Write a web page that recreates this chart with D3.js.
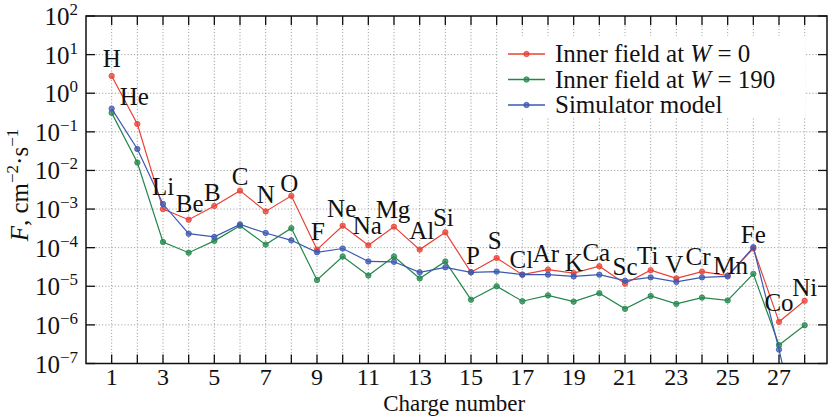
<!DOCTYPE html>
<html>
<head>
<meta charset="utf-8">
<script src="https://cdn.jsdelivr.net/npm/d3@7"></script>
<style>
  body { margin: 0; background: #fff; }
  svg text { font-family: "Liberation Serif", "DejaVu Serif", serif; fill: #111; }
</style>
</head>
<body>
<svg id="chart" width="829" height="417"></svg>
<script>
// charge numbers and element symbols
var charges = [1, 2, 3, 4, 5, 6, 7, 8, 9, 10, 11, 12, 13, 14, 15, 16, 17, 18, 19, 20, 21, 22, 23, 24, 25, 26, 27, 28];
var symbols = ["H", "He", "Li", "Be", "B", "C", "N", "O", "F", "Ne", "Na", "Mg", "Al", "Si", "P", "S", "Cl", "Ar", "K", "Ca", "Sc", "Ti", "V", "Cr", "Mn", "Fe", "Co", "Ni"];

// fluxes, cm^-2 s^-1
var innerW0 = [2.8, 0.16, 1.0e-3, 5.3e-4, 1.2e-3, 3.0e-3, 8.7e-4, 2.2e-3, 8.9e-5, 3.7e-4, 1.15e-4, 3.5e-4, 8.9e-5, 2.5e-4,
               2.3e-5, 5.4e-5, 2.0e-5, 2.7e-5, 2.2e-5, 3.3e-5, 1.17e-5, 2.6e-5, 1.6e-5, 2.4e-5, 1.9e-5, 9.5e-5, 1.2e-6, 4.2e-6];
var innerW190 = [0.31, 0.016, 1.4e-4, 7.4e-5, 1.5e-4, 3.7e-4, 1.2e-4, 3.2e-4, 1.45e-5, 5.9e-5, 1.9e-5, 5.9e-5, 1.6e-5, 4.4e-5,
                 4.5e-6, 1.0e-5, 4.1e-6, 5.8e-6, 4.0e-6, 6.6e-6, 2.6e-6, 5.6e-6, 3.5e-6, 5.1e-6, 4.3e-6, 2.1e-5, 3.0e-7, 9.8e-7];
var simulator = [0.40, 0.036, 1.35e-3, 2.3e-4, 1.9e-4, 4.0e-4, 2.4e-4, 1.55e-4, 7.6e-5, 9.5e-5, 4.4e-5, 4.3e-5, 2.3e-5, 3.1e-5,
                 2.3e-5, 2.4e-5, 2.0e-5, 2.0e-5, 1.8e-5, 2.0e-5, 1.4e-5, 1.7e-5, 1.3e-5, 1.7e-5, 1.8e-5, 1.03e-4, 2.3e-7, 3e-10];

var xTicks = [1, 3, 5, 7, 9, 11, 13, 15, 17, 19, 21, 23, 25, 27];
var yExponents = [2, 1, 0, -1, -2, -3, -4, -5, -6, -7];

// hand placement of the element labels (pixels, relative to the red point)
var labelNudge = [[0,-9],[-3,-19],[0,-14],[1,-8],[-2,-5],[0,-6],[0,-8],[-2,-4],[1,-10],[-1,-9],[-1,-11],[-1,-9],[2,-11],[-2,-6],
                  [2,-8],[-2,-9],[-1,-7],[-2,-8],[0,-2],[-3,-5],[0,-9],[-3,-6],[-2,-5],[-4,-7],[3,-2],[0,-6],[0,-11],[0,-5]];

var series = [
  {name: "Inner field at ", tail: " = 0", values: innerW0, color: "#ea4035"},
  {name: "Inner field at ", tail: " = 190", values: innerW190, color: "#23874b"},
  {name: "Simulator model", tail: null, values: simulator, color: "#3b58b0"}
];

var svg = d3.select("#chart");
var pl = 86, pr = 827, pt = 16, pb = 363.5;
var fs = 25, fsup = 17;

var x = d3.scaleLinear().domain([0, 28.87]).range([pl, pr]);
var y = d3.scaleLog().domain([1e-7, 1e2]).range([pb, pt]);

svg.append("clipPath").attr("id", "plotclip")
   .append("rect").attr("x", pl).attr("y", pt).attr("width", pr - pl).attr("height", pb - pt);

// grid
var grid = svg.append("g");
charges.forEach(function(c) {
  grid.append("line")
      .attr("x1", x(c)).attr("x2", x(c)).attr("y1", pt).attr("y2", pb)
      .style("stroke", "#9a9a9a").style("stroke-width", 0.9).style("stroke-dasharray", "1.2,2");
});
yExponents.forEach(function(e) {
  grid.append("line")
      .attr("x1", pl).attr("x2", pr).attr("y1", y(Math.pow(10, e))).attr("y2", y(Math.pow(10, e)))
      .style("stroke", "#9a9a9a").style("stroke-width", 0.9).style("stroke-dasharray", "1.2,2");
});

// legend background hides the grid
svg.append("rect").attr("x", 498).attr("y", 36).attr("width", 307).attr("height", 82).attr("fill", "#fff");

// series
var line = d3.line().x(function(d, i) { return x(charges[i]); }).y(function(d) { return y(d); });
var plot = svg.append("g").attr("clip-path", "url(#plotclip)");
series.forEach(function(s) {
  plot.append("path").datum(s.values)
      .attr("d", line)
      .attr("fill", "none")
      .attr("stroke", s.color)
      .attr("stroke-width", 1.2);
  plot.selectAll(null).data(s.values).enter().append("circle")
      .attr("cx", function(d, i) { return x(charges[i]); })
      .attr("cy", function(d) { return y(d); })
      .attr("r", 2.7)
      .attr("fill", s.color).attr("fill-opacity", 0.75)
      .attr("stroke", s.color).attr("stroke-width", 0.8);
});

// element labels
svg.append("g").selectAll("text").data(symbols).enter().append("text")
   .attr("x", function(d, i) { return x(charges[i]) + labelNudge[i][0]; })
   .attr("y", function(d, i) { return y(innerW0[i]) + labelNudge[i][1]; })
   .attr("text-anchor", "middle")
   .style("font-size", fs + "px")
   .text(function(d) { return d; });

// frame
svg.append("rect").attr("x", pl).attr("y", pt).attr("width", pr - pl).attr("height", pb - pt)
   .attr("fill", "none").attr("stroke", "#111").attr("stroke-width", 1.5);

// ticks on all sides, inward
var ticks = svg.append("g").style("stroke", "#111").style("stroke-width", 1.3);
charges.forEach(function(c) {
  ticks.append("line").attr("x1", x(c)).attr("x2", x(c)).attr("y1", pb).attr("y2", pb - 9);
  ticks.append("line").attr("x1", x(c)).attr("x2", x(c)).attr("y1", pt).attr("y2", pt + 9);
});
yExponents.forEach(function(e) {
  var yy = y(Math.pow(10, e));
  ticks.append("line").attr("x1", pl).attr("x2", pl + 9).attr("y1", yy).attr("y2", yy);
  ticks.append("line").attr("x1", pr).attr("x2", pr - 9).attr("y1", yy).attr("y2", yy);
});

// x tick labels
svg.append("g").selectAll("text").data(xTicks).enter().append("text")
   .attr("x", function(d) { return x(d); })
   .attr("y", 385)
   .attr("text-anchor", "middle")
   .style("font-size", "24px")
   .text(function(d) { return d; });

// y tick labels 10^e
yExponents.forEach(function(e) {
  var t = svg.append("text")
     .attr("x", 78).attr("y", y(Math.pow(10, e)) + 9)
     .attr("text-anchor", "end")
     .style("font-size", fs + "px");
  t.append("tspan").text("10");
  t.append("tspan").attr("dy", -10).style("font-size", fsup + "px").text(e < 0 ? "\u2212" + (-e) : e);
});

// axis titles
svg.append("text").attr("x", x(14.5) - 4).attr("y", 411).attr("text-anchor", "middle")
   .style("font-size", "23px").text("Charge number");

var yl = svg.append("text")
   .attr("transform", "translate(28," + 185 + ") rotate(-90)")
   .attr("text-anchor", "middle")
   .style("font-size", fs + "px");
yl.append("tspan").style("font-style", "italic").text("F");
yl.append("tspan").text(", cm");
yl.append("tspan").attr("dy", -10).style("font-size", fsup + "px").text("\u22122");
yl.append("tspan").attr("dy", 10).text("\u00b7s");
yl.append("tspan").attr("dy", -10).style("font-size", fsup + "px").text("\u22121");

// legend
var lg = svg.append("g");
series.forEach(function(s, i) {
  var ly = 54 + i * 25.5;
  lg.append("line").attr("x1", 508).attr("x2", 545).attr("y1", ly).attr("y2", ly)
    .attr("stroke", s.color).attr("stroke-width", 1.4);
  lg.append("circle").attr("cx", 526.5).attr("cy", ly).attr("r", 2.7)
    .attr("fill", s.color).attr("fill-opacity", 0.75).attr("stroke", s.color).attr("stroke-width", 0.8);
  var t = lg.append("text").attr("x", 555).attr("y", ly + 8).style("font-size", fs + "px");
  t.append("tspan").text(s.name);
  if (s.tail !== null) {
    t.append("tspan").style("font-style", "italic").text("W");
    t.append("tspan").text(s.tail);
  }
});
</script>
</body>
</html>
